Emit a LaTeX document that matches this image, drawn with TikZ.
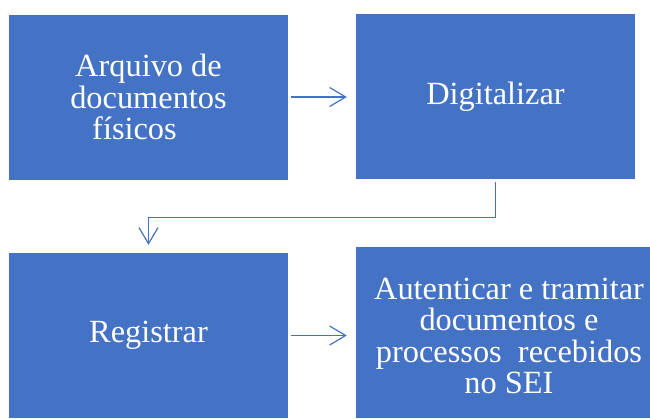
\documentclass[tikz,border=0pt]{standalone}
\usepackage{fontspec}
\setmainfont{Liberation Serif}
\usetikzlibrary{arrows.meta}
\definecolor{boxblue}{HTML}{4472C4}
\tikzset{
  box/.style={fill=boxblue, draw=none, text=white, align=center,
    minimum width=279bp, minimum height=165bp, inner sep=0pt,
    font=\fontsize{32.5}{31.5}\selectfont},
  conn/.style={draw=boxblue, line width=1.2bp,
    -{Straight Barb[length=16bp,width=19bp,line width=1.2bp]}}
}
\begin{document}
\begin{tikzpicture}[x=1bp,y=-1bp]
\useasboundingbox (0,0) rectangle (650,418);
\node[box] (b1) at (148.5,97) {Arquivo de\\documentos\\físicos\rule{28bp}{0pt}};
\node[box] (b2) at (495.5,96.5) {Digitalizar};
\node[box] (b3) at (148.5,335.5) {Registrar};
\node[box, minimum width=300bp, minimum height=171bp] (b4) at (506,332.5) {};
\node[box, minimum width=0pt, minimum height=0pt] (t4) at (509,336) {Autenticar e tramitar\\documentos e\\processos\ \ recebidos\\no SEI};
\draw[conn, shorten <=3bp, shorten >=9bp] (b1.east) -- (b1.east -| b4.west);
\draw[conn, shorten <=3bp, shorten >=9bp] (b3.east) -- (b3.east -| b4.west);
\draw[conn, shorten <=3bp, shorten >=8bp] (b2.south) -- ++(0,38) -| (b3.north);
\end{tikzpicture}
\end{document}
